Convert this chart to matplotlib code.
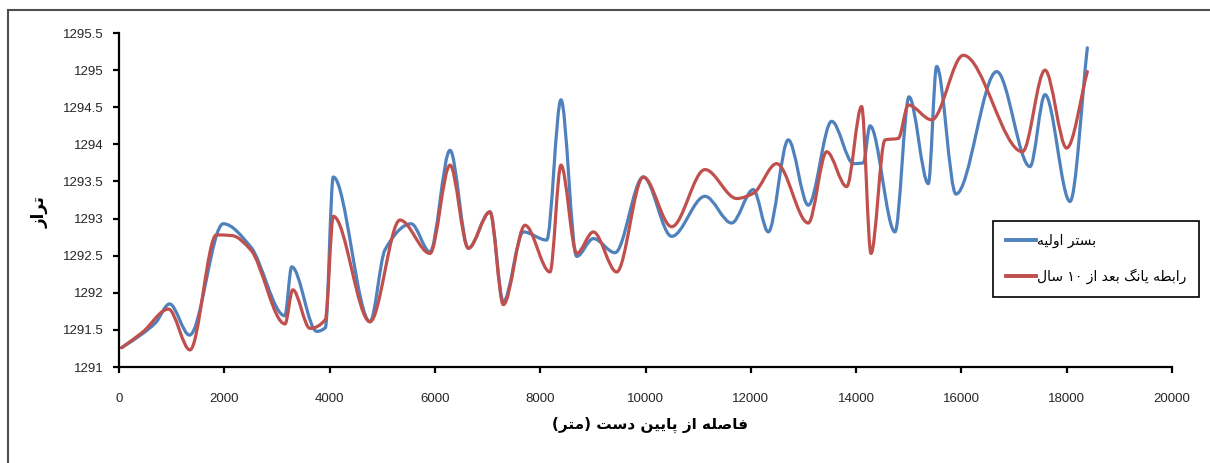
import re
import numpy as np
import matplotlib
matplotlib.use("Agg")
import matplotlib.pyplot as plt
from matplotlib.path import Path
from matplotlib.patches import PathPatch, Rectangle
from matplotlib.lines import Line2D

# bed profile along the reach: distance from downstream (m) vs elevation
dist_initial = [50, 450, 700, 960, 1340, 1980, 2500, 3150, 3280, 3755, 3920, 4070,
                4767, 5052, 5550, 5907, 6287, 6635, 7046, 7300, 7680, 8123, 8395,
                8693, 9009, 9421, 9958, 10497, 11130, 11636, 12047, 12332, 12712,
                13092, 13536, 13950, 14138, 14264, 14739, 15005, 15372, 15530,
                15897, 16670, 17303, 17588, 18063, 18392]
elev_initial = [1291.26, 1291.45, 1291.60, 1291.85, 1291.43, 1292.93, 1292.62,
                1291.69, 1292.35, 1291.48, 1291.53, 1293.56, 1291.61, 1292.58,
                1292.93, 1292.55, 1293.92, 1292.60, 1293.09, 1291.88, 1292.82,
                1292.71, 1294.60, 1292.49, 1292.73, 1292.54, 1293.56, 1292.76,
                1293.30, 1292.94, 1293.39, 1292.82, 1294.06, 1293.18, 1294.31,
                1293.74, 1293.75, 1294.25, 1292.82, 1294.64, 1293.47, 1295.05,
                1293.33, 1294.98, 1293.70, 1294.67, 1293.23, 1295.30]

dist_yang = [50, 450, 940, 1348, 1850, 2150, 2500, 3153, 3300, 3628, 3920, 4071,
             4767, 5337, 5907, 6287, 6635, 7046, 7300, 7711, 8186, 8395, 8693,
             9009, 9452, 9958, 10497, 11130, 11732, 12047, 12491, 13092, 13441,
             13821, 14105, 14283, 14549, 14802, 14992, 15436, 16036, 17160,
             17588, 17999, 18392]
elev_yang = [1291.26, 1291.47, 1291.78, 1291.23, 1292.78, 1292.77, 1292.58,
             1291.58, 1292.04, 1291.52, 1291.64, 1293.03, 1291.61, 1292.98,
             1292.53, 1293.72, 1292.60, 1293.09, 1291.84, 1292.91, 1292.28,
             1293.72, 1292.53, 1292.82, 1292.28, 1293.56, 1292.89, 1293.66,
             1293.27, 1293.34, 1293.74, 1292.94, 1293.90, 1293.43, 1294.51,
             1292.53, 1294.06, 1294.08, 1294.53, 1294.33, 1295.20, 1293.90,
             1295.00, 1293.95, 1294.98]

label_initial = "بستر اولیه"
label_yang = "رابطه یانگ بعد از ۱۰ سال"
xlabel = "فاصله از پایین دست (متر)"
ylabel = "تراز"

xticks = [0, 2000, 4000, 6000, 8000, 10000, 12000, 14000, 16000, 18000, 20000]
yticks = [1291, 1291.5, 1292, 1292.5, 1293, 1293.5, 1294, 1294.5, 1295, 1295.5]
ytick_labels = ["1291", "1291.5", "1292", "1292.5", "1293", "1293.5", "1294",
                "1294.5", "1295", "1295.5"]

BLUE = "#4F81BD"
RED = "#C0504D"

# contextual forms (isolated, final, initial, medial) for the letters used
FORMS = {
    "\u0627": (0xFE8D, 0xFE8E),
    "\u0628": (0xFE8F, 0xFE90, 0xFE91, 0xFE92),
    "\u062A": (0xFE95, 0xFE96, 0xFE97, 0xFE98),
    "\u062F": (0xFEA9, 0xFEAA),
    "\u0631": (0xFEAD, 0xFEAE),
    "\u0632": (0xFEAF, 0xFEB0),
    "\u0633": (0xFEB1, 0xFEB2, 0xFEB3, 0xFEB4),
    "\u0635": (0xFEB9, 0xFEBA, 0xFEBB, 0xFEBC),
    "\u0637": (0xFEC1, 0xFEC2, 0xFEC3, 0xFEC4),
    "\u0639": (0xFEC9, 0xFECA, 0xFECB, 0xFECC),
    "\u0641": (0xFED1, 0xFED2, 0xFED3, 0xFED4),
    "\u0644": (0xFEDD, 0xFEDE, 0xFEDF, 0xFEE0),
    "\u0645": (0xFEE1, 0xFEE2, 0xFEE3, 0xFEE4),
    "\u0646": (0xFEE5, 0xFEE6, 0xFEE7, 0xFEE8),
    "\u0647": (0xFEE9, 0xFEEA, 0xFEEB, 0xFEEC),
    "\u0648": (0xFEED, 0xFEEE),
    "\u067E": (0xFB56, 0xFB57, 0xFB58, 0xFB59),
    "\u06AF": (0xFB92, 0xFB93, 0xFB94, 0xFB95),
    "\u06CC": (0xFBFC, 0xFBFD, 0xFBFE, 0xFBFF),
}


def farsi(text):
    """Shape Persian text and put it in visual (left-to-right) order."""
    text = text.replace("\u064A", "\u06CC")
    shaped = []
    for i, ch in enumerate(text):
        if ch not in FORMS:
            shaped.append(ch)
            continue
        prev = text[i - 1] if i > 0 else ""
        nxt = text[i + 1] if i + 1 < len(text) else ""
        join_prev = prev in FORMS and len(FORMS[prev]) == 4
        join_next = len(FORMS[ch]) == 4 and nxt in FORMS
        if join_prev and join_next:
            form = 3
        elif join_next:
            form = 2
        elif join_prev:
            form = 1
        else:
            form = 0
        shaped.append(chr(FORMS[ch][form]))
    tokens = re.findall(r"[0-9\u06F0-\u06F9]+|.", "".join(shaped))
    visual = "".join(tokens[::-1])
    return visual.translate(str.maketrans("()", ")("))


def smooth_path(xs, ys):
    """Cubic Bezier path through the points (shape-preserving slopes)."""
    x = np.asarray(xs, float)
    y = np.asarray(ys, float)
    n = len(x)
    h = np.diff(x)
    d = np.diff(y) / h
    m = np.zeros(n)
    m[0], m[-1] = d[0], d[-1]
    for k in range(1, n - 1):
        if d[k - 1] * d[k] > 0:
            w1 = 2 * h[k] + h[k - 1]
            w2 = h[k] + 2 * h[k - 1]
            m[k] = (w1 + w2) / (w1 / d[k - 1] + w2 / d[k])
    verts = [(x[0], y[0])]
    codes = [Path.MOVETO]
    for i in range(n - 1):
        s = h[i] / 3.0
        verts += [(x[i] + s, y[i] + m[i] * s),
                  (x[i + 1] - s, y[i + 1] - m[i + 1] * s),
                  (x[i + 1], y[i + 1])]
        codes += [Path.CURVE4] * 3
    return Path(verts, codes)


W, H = 1210, 463
fig = plt.figure(figsize=(W / 100, H / 100), dpi=100)
ax = fig.add_axes([119 / W, 1 - 367 / H, (1172 - 119) / W, (367 - 33) / H])

ax.add_patch(PathPatch(smooth_path(dist_initial, elev_initial), fill=False,
                       edgecolor=BLUE, lw=2.3, capstyle="round", joinstyle="round"))
ax.add_patch(PathPatch(smooth_path(dist_yang, elev_yang), fill=False,
                       edgecolor=RED, lw=2.3, capstyle="round", joinstyle="round"))

ax.set_xlim(0, 20000)
ax.set_ylim(1291, 1295.5)
ax.set_xticks(xticks)
ax.set_xticklabels([str(t) for t in xticks])
ax.set_yticks(yticks)
ax.set_yticklabels(ytick_labels)

for side in ["top", "right"]:
    ax.spines[side].set_visible(False)
for side in ["left", "bottom"]:
    ax.spines[side].set_linewidth(1.6)
    ax.spines[side].set_color("black")

ax.tick_params(axis="both", direction="out", length=4, width=1.6, color="black",
               labelsize=9.5, labelcolor="#262626")
ax.tick_params(axis="x", pad=15)
ax.tick_params(axis="y", pad=7)
for lab in ax.get_xticklabels() + ax.get_yticklabels():
    lab.set_family(["Liberation Sans", "DejaVu Sans"])

fig.text(650 / W, 1 - 425 / H, farsi(xlabel), ha="center", va="center",
         fontsize=11, fontweight="bold", family="DejaVu Sans")
fig.text(40 / W, 1 - 212 / H, farsi(ylabel), ha="center", va="center",
         rotation=90, fontsize=12, fontweight="bold", family="DejaVu Sans")

handles = [Line2D([], [], color=BLUE, lw=2.8), Line2D([], [], color=RED, lw=2.8)]
leg = ax.legend(handles, [farsi(label_initial), farsi(label_yang)],
                loc="upper left", bbox_to_anchor=(993 / W, 1 - 221 / H),
                bbox_transform=fig.transFigure, borderaxespad=0, fancybox=False,
                framealpha=1, edgecolor="black", handlelength=2.2,
                handletextpad=0.1, labelspacing=1.5, borderpad=0.9,
                prop={"family": "DejaVu Sans", "size": 10})
leg.get_frame().set_linewidth(1.2)

# outer chart-area frame
fig.patches.append(Rectangle((8 / W, -0.1), 1.2, 1 - 10 / H + 0.1,
                             transform=fig.transFigure, fill=False,
                             edgecolor="#4d4d4d", lw=1.5))

fig.savefig("out.png", dpi=100)
